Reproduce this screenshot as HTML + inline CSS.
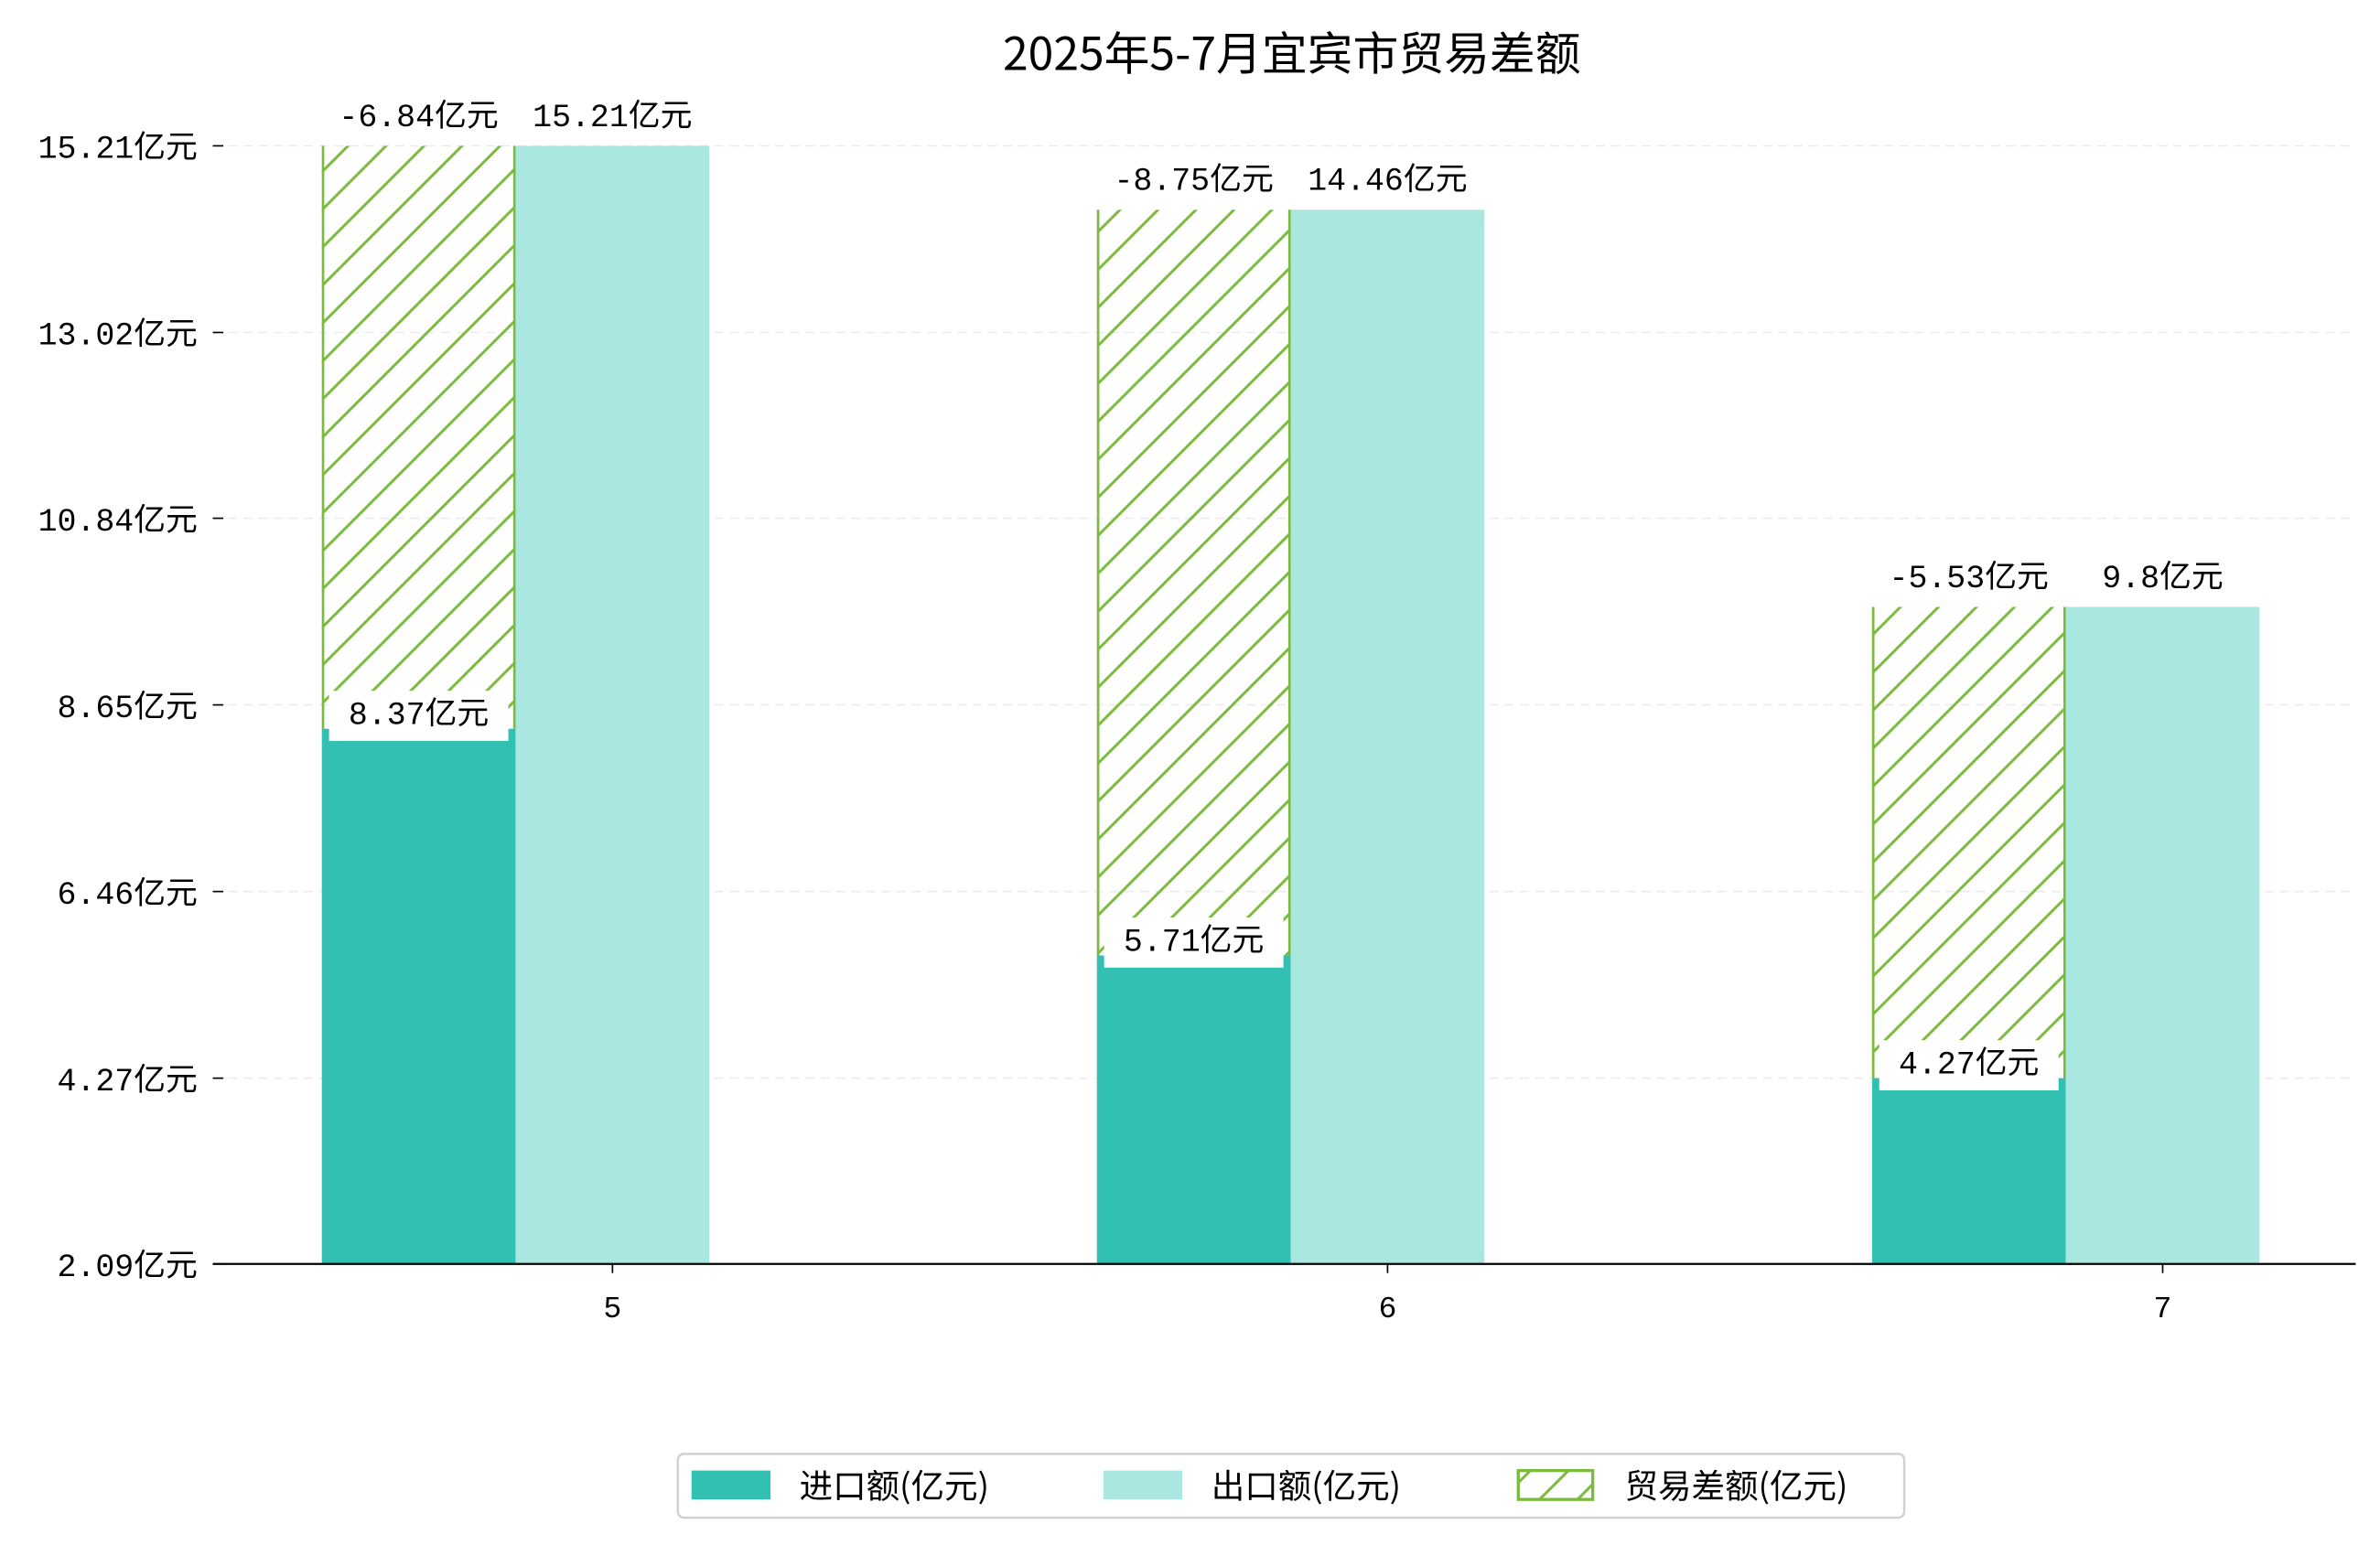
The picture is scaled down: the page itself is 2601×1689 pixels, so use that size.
<!DOCTYPE html>
<html><head><meta charset="utf-8"><style>
html,body{margin:0;padding:0;background:#fff;}
svg{display:block;}
text{font-family:"Liberation Mono","Noto Sans CJK SC",monospace;fill:#000;}
.cjk{font-family:"Noto Sans CJK SC","WenQuanYi Zen Hei",sans-serif;}
</style></head><body>
<svg id="chart" width="2601" height="1689" viewBox="0 0 1566 1017" preserveAspectRatio="none" xmlns="http://www.w3.org/2000/svg">
<defs>
<pattern id="hatch" patternUnits="userSpaceOnUse" width="25" height="25">
<path d="M-5,30 L30,-5 M-30,30 L5,-5 M20,30 L55,-5" stroke="#7aba3c" stroke-width="1.8" fill="none"/>
</pattern>
</defs>
<text class="cjk" x="850" y="46" font-size="30" text-anchor="middle">2025年5-7月宜宾市贸易差额</text>
<g id="grid"></g>
<g id="bars"></g>
<g id="labels"></g>
<g id="axes"></g>
<g>
<rect x="446" y="957" width="807" height="42" rx="4" fill="#fff" stroke="#d0d0d0" stroke-width="1.5"/>
<rect x="455" y="968" width="52" height="19" fill="#32c0b3"/>
<text class="cjk" x="526" y="986" font-size="22">进口额(亿元)</text>
<rect x="726" y="968" width="52" height="19" fill="#abe7e1"/>
<text class="cjk" x="797" y="986" font-size="22">出口额(亿元)</text>
<rect x="999" y="968" width="49" height="19" fill="url(#hatch)" stroke="#7aba3c" stroke-width="2"/>
<text class="cjk" x="1069" y="986" font-size="22">贸易差额(亿元)</text>
</g>
</svg>
<script>
const months = ['5', '6', '7'];
const imports = [8.37, 5.71, 4.27];
const exportVals = [15.21, 14.46, 9.8];
const balances = [-6.84, -8.75, -5.53];
const yTicks = [2.09, 4.27, 6.46, 8.65, 10.84, 13.02, 15.21];

const NS = 'http://www.w3.org/2000/svg';
const yMin = 2.09, yMax = 15.21, yBottom = 832, yTop = 96;
function yScale(v) { return yBottom - (v - yMin) / (yMax - yMin) * (yBottom - yTop); }
function xScale(i) { return 403 + i * 510; }
const barW = 127.5;
function mk(tag, attrs, parent) {
  const el = document.createElementNS(NS, tag);
  for (const k in attrs) el.setAttribute(k, attrs[k]);
  parent.appendChild(el);
  return el;
}
const grid = document.getElementById('grid');
const bars = document.getElementById('bars');
const labels = document.getElementById('labels');
const axes = document.getElementById('axes');

yTicks.forEach(function (t) {
  const y = yScale(t);
  if (t !== yMin) {
    const g = mk('line', {x1: 140, x2: 1550, y1: y, y2: y, stroke: '#ececec', 'stroke-width': 1, 'stroke-dasharray': '6,4'}, grid);
    
    
  }
  const tk = mk('line', {x1: 140, x2: 147, y1: y, y2: y, stroke: '#000', 'stroke-width': 1}, axes);
  
  
  const tx = mk('text', {x: 130, y: y + 8, 'font-size': 21, 'text-anchor': 'end'}, axes);
  tx.textContent = t.toFixed(2) + '亿元';
  
  
});

function label(txt, cx, y, name) {
  const w = 118;
  const r = mk('rect', {x: cx - w / 2, y: y - 22, width: w, height: 33, fill: '#fff'}, labels);
  
  
  const t = mk('text', {x: cx, y: y, 'font-size': 21, 'text-anchor': 'middle'}, labels);
  t.textContent = txt;
  
  
}

months.forEach(function (m, i) {
  const cx = xScale(i);
  const xi = cx - barW * 1.5;
  const xe = cx - barW / 2;
  const yi = yScale(imports[i]);
  const ye = yScale(exportVals[i]);
  const yb = yScale(imports[i] + Math.abs(balances[i]));
  const b1 = mk('rect', {x: xi, y: yi, width: barW, height: yBottom - yi, fill: '#32c0b3'}, bars);
  
  
  const b2 = mk('rect', {x: xe, y: ye, width: barW, height: yBottom - ye, fill: '#abe7e1'}, bars);
  
  
  const b3 = mk('rect', {x: xi, y: yb, width: barW, height: yi - yb, fill: 'url(#hatch)'}, bars);
  
  
  [xi + 0.8, xi + barW - 0.8].forEach(function (x) {
    const l = mk('line', {x1: x, x2: x, y1: yb, y2: yi, stroke: '#7aba3c', 'stroke-width': 1.6}, bars);
    
    
  });
  label(imports[i] + '亿元', xi + barW / 2, yi - 3, 'import-value-label');
  label(exportVals[i] + '亿元', cx, ye - 13, 'export-value-label');
  label(balances[i] + '亿元', xi + barW / 2, yb - 13, 'balance-value-label');
  const tk = mk('line', {x1: cx, x2: cx, y1: yBottom, y2: yBottom + 6, stroke: '#000', 'stroke-width': 1}, axes);
  
  
  const tx = mk('text', {x: cx, y: yBottom + 35, 'font-size': 20, 'text-anchor': 'middle'}, axes);
  tx.textContent = m;
  
  
});
const ax = mk('line', {x1: 140, x2: 1550, y1: yBottom, y2: yBottom, stroke: '#000', 'stroke-width': 1.4}, axes);


</script>
</body></html>
